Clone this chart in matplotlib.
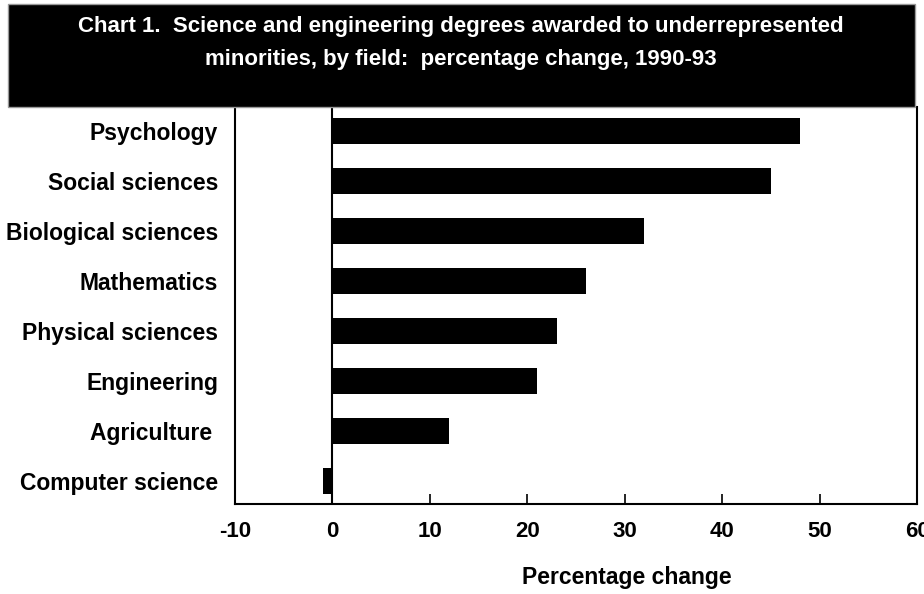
import matplotlib
matplotlib.use("Agg")
import matplotlib.pyplot as plt
from matplotlib.patches import Rectangle

plt.rcParams["font.family"] = ["Liberation Sans", "DejaVu Sans"]
plt.rcParams["font.weight"] = "bold"

# data ------------------------------------------------------------------
fields = ["Psychology", "Social sciences", "Biological sciences", "Mathematics",
          "Physical sciences", "Engineering", "Agriculture ", "Computer science"]
pct_change = [48, 45, 32, 26, 23, 21, 12, -1]
xticks = [-10, 0, 10, 20, 30, 40, 50, 60]

title = ("Chart 1.  Science and engineering degrees awarded to underrepresented\n"
         "minorities, by field:  percentage change, 1990-93")

# figure ----------------------------------------------------------------
W, H = 924, 594
fig = plt.figure(figsize=(W / 100, H / 100), dpi=100)
ax = fig.add_axes([235 / W, 1 - 504 / H, (917 - 235) / W, (504 - 107) / H])

ypos = list(range(len(fields)))[::-1]   # first field on top
ax.barh(ypos, pct_change, height=0.52, color="black", zorder=3)
ax.axvline(0, color="black", lw=1.5, zorder=4)

ax.set_xlim(-10, 60)
ax.set_ylim(-0.46, len(fields) - 1 + 0.48)
ax.set_xticks(xticks)
ax.set_xticklabels([str(t) for t in xticks], fontsize=16, fontweight="bold")
ax.set_yticks(ypos)
ax.set_yticklabels(fields, fontsize=16.5, fontweight="bold")
ax.tick_params(axis="x", direction="in", length=7, width=1.2, pad=12)
ax.tick_params(axis="y", length=0, pad=12)
for s in ax.spines.values():
    s.set_linewidth(1.5)
ax.spines["top"].set_visible(False)

ax.set_xlabel("Percentage change", fontsize=16.5, fontweight="bold")
ax.xaxis.set_label_coords((627 - 235) / (917 - 235), -0.155)

# black title box
fig.patches.append(Rectangle((8 / W, 1 - 107 / H), (915 - 8) / W, (107 - 4) / H,
                             transform=fig.transFigure, facecolor="black",
                             edgecolor="#999999", lw=1, zorder=10))
fig.text(461 / W, 1 - 43 / H, title, color="white", ha="center", va="center",
         fontsize=16, fontweight="bold", linespacing=1.75, zorder=11)

fig.savefig("out.png", dpi=100)
